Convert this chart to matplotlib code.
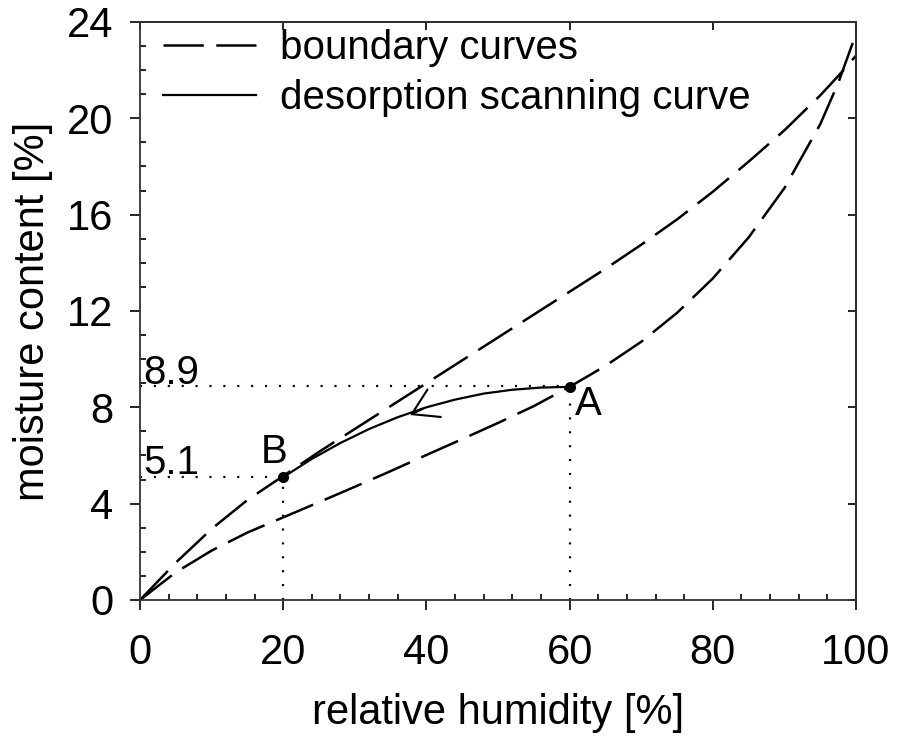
import matplotlib
matplotlib.use('Agg')
import matplotlib.pyplot as plt
from matplotlib.ticker import MultipleLocator

plt.rcParams['font.family'] = ['Liberation Sans', 'DejaVu Sans']
plt.rcParams['font.size'] = 30
plt.rcParams['lines.scale_dashes'] = False

# relative humidity [%]
rh = [0, 5, 10, 15, 20, 25, 30, 35, 40, 45, 50, 55, 60, 65, 70, 75, 80, 85, 90, 95, 97.5, 100]
# boundary curves, moisture content [%]
desorption = [0, 1.55, 2.95, 4.15, 5.15, 6.15, 7.1, 8.05, 9.0, 9.95, 10.9, 11.85, 12.8,
              13.75, 14.75, 15.8, 16.95, 18.2, 19.5, 20.95, 21.75, 22.6]
adsorption = [0, 1.15, 2.05, 2.8, 3.43, 4.06, 4.7, 5.35, 6.02, 6.68, 7.35, 8.05, 8.85,
              9.72, 10.72, 11.92, 13.35, 15.05, 17.1, 19.75, 21.45, 23.5]

# desorption scanning curve from A to B
scan_rh = [60, 56, 52, 48, 44, 40, 36, 32, 28, 24, 20]
scan_mc = [8.85, 8.82, 8.73, 8.57, 8.32, 8.0, 7.59, 7.1, 6.52, 5.86, 5.1]

# marked points
point_A = (60, 8.85)
point_B = (20, 5.1)
label_A = 8.9
label_B = 5.1

fig = plt.figure(figsize=(8.98, 7.4), dpi=100)
ax = fig.add_axes([0.1559, 0.1892, 0.7973, 0.7811])

dash = (0, (29, 9))
dot = (0, (1.5, 8.5))

ax.plot(rh, desorption, color='black', lw=1.8, linestyle=dash, label='boundary curves')
ax.plot(rh, adsorption, color='black', lw=1.8, linestyle=dash)
ax.plot(scan_rh, scan_mc, color='black', lw=1.6, label='desorption scanning curve')

# dotted guide lines
ax.plot([0, point_A[0]], [label_A, label_A], color='black', lw=1.6, linestyle=dot)
ax.plot([point_A[0], point_A[0]], [0, point_A[1]], color='black', lw=1.6, linestyle=dot)
ax.plot([0, point_B[0]], [label_B, label_B], color='black', lw=1.6, linestyle=dot)
ax.plot([point_B[0], point_B[0]], [0, point_B[1]], color='black', lw=1.6, linestyle=dot)

ax.plot([point_A[0], point_B[0]], [point_A[1], point_B[1]], 'o', color='black', ms=7)

ax.text(0.5, label_A + 0.05, '8.9', va='baseline', ha='left', fontsize=29)
ax.text(0.5, label_B + 0.15, '5.1', va='baseline', ha='left', fontsize=29)
ax.text(16.8, 5.69, 'B', va='baseline', ha='left', fontsize=29)
ax.text(60.7, 7.68, 'A', va='baseline', ha='left', fontsize=29)

# arrow on scanning curve
ax.annotate('', xy=(37.7, 7.68), xytext=(39.5, 7.94),
            arrowprops=dict(arrowstyle='->,head_length=0.9,head_width=0.55',
                            lw=1.5, color='black', shrinkA=0, shrinkB=0,
                            mutation_scale=20))

ax.set_xlim(0, 100)
ax.set_ylim(0, 24)
ax.xaxis.set_major_locator(MultipleLocator(20))
ax.xaxis.set_minor_locator(MultipleLocator(4))
ax.yaxis.set_major_locator(MultipleLocator(4))
ax.yaxis.set_minor_locator(MultipleLocator(1))
ax.tick_params(which='major', direction='out', length=7, width=1.2, pad=12, labelsize=30)
ax.tick_params(axis='x', which='major', pad=17)
ax.tick_params(which='minor', direction='in', length=4.5, width=1.2)

top = ax.secondary_xaxis('top')
top.set_xticks([0, 20, 40, 60, 80, 100])
top.tick_params(direction='in', length=6, width=1.2, labeltop=False)
right = ax.secondary_yaxis('right')
right.set_yticks([0, 4, 8, 12, 16, 20, 24])
right.tick_params(direction='in', length=6, width=1.2, labelright=False)

for s in ax.spines.values():
    s.set_linewidth(1.3)
    s.set_color('#333333')
top.spines['top'].set_linewidth(1.3)
right.spines['right'].set_linewidth(1.3)

ax.set_xlabel('relative humidity [%]', fontsize=30, labelpad=14)
ax.set_ylabel('moisture content [%]', fontsize=30, labelpad=10)

ax.legend(loc='upper left', bbox_to_anchor=(0.032, 0.988), frameon=False,
          borderpad=0, borderaxespad=0, handlelength=2.3, handletextpad=0.6,
          labelspacing=0.3, fontsize=29)

fig.savefig('out.png', dpi=100)
